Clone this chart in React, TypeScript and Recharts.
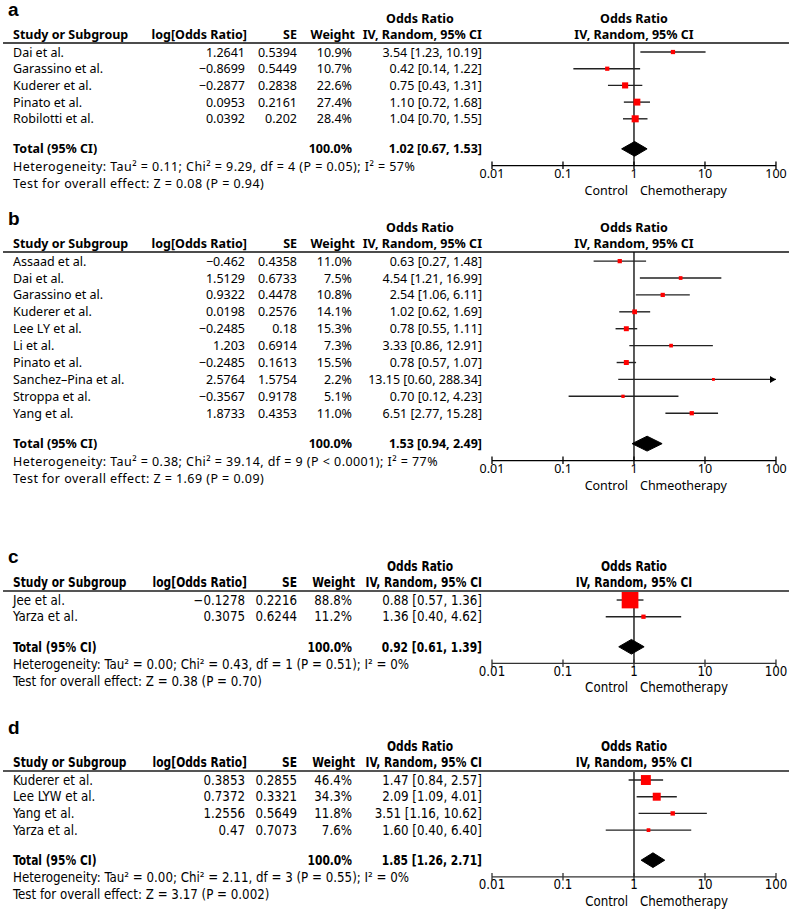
import React from 'react';
import { ComposedChart, XAxis, YAxis, Scatter, ReferenceLine, ReferenceDot } from 'recharts';

// ---------- Panel a ----------
const studiesA = ['Dai et al.', 'Garassino et al.', 'Kuderer et al.', 'Pinato et al.', 'Robilotti et al.'];
const logOrA = [1.2641, -0.8699, -0.2877, 0.0953, 0.0392];
const seA = [0.5394, 0.5449, 0.2838, 0.2161, 0.202];
const weightA = [10.9, 10.7, 22.6, 27.4, 28.4];
const orA = [3.54, 0.42, 0.75, 1.1, 1.04];
const loA = [1.23, 0.14, 0.43, 0.72, 0.7];
const hiA = [10.19, 1.22, 1.31, 1.68, 1.55];
const totalA = [1.02, 0.67, 1.53];
const hetA = 'Heterogeneity: Tau² = 0.11; Chi² = 9.29, df = 4 (P = 0.05); I² = 57%';
const testA = 'Test for overall effect: Z = 0.08 (P = 0.94)';

// ---------- Panel b ----------
const studiesB = ['Assaad et al.', 'Dai et al.', 'Garassino et al.', 'Kuderer et al.', 'Lee LY et al.', 'Li et al.', 'Pinato et al.', 'Sanchez–Pina et al.', 'Stroppa et al.', 'Yang et al.'];
const logOrB = [-0.462, 1.5129, 0.9322, 0.0198, -0.2485, 1.203, -0.2485, 2.5764, -0.3567, 1.8733];
const seB = [0.4358, 0.6733, 0.4478, 0.2576, 0.18, 0.6914, 0.1613, 1.5754, 0.9178, 0.4353];
const weightB = [11.0, 7.5, 10.8, 14.1, 15.3, 7.3, 15.5, 2.2, 5.1, 11.0];
const orB = [0.63, 4.54, 2.54, 1.02, 0.78, 3.33, 0.78, 13.15, 0.7, 6.51];
const loB = [0.27, 1.21, 1.06, 0.62, 0.55, 0.86, 0.57, 0.6, 0.12, 2.77];
const hiB = [1.48, 16.99, 6.11, 1.69, 1.11, 12.91, 1.07, 288.34, 4.23, 15.28];
const totalB = [1.53, 0.94, 2.49];
const hetB = 'Heterogeneity: Tau² = 0.38; Chi² = 39.14, df = 9 (P < 0.0001); I² = 77%';
const testB = 'Test for overall effect: Z = 1.69 (P = 0.09)';

// ---------- Panel c ----------
const studiesC = ['Jee et al.', 'Yarza et al.'];
const logOrC = [-0.1278, 0.3075];
const seC = [0.2216, 0.6244];
const weightC = [88.8, 11.2];
const orC = [0.88, 1.36];
const loC = [0.57, 0.4];
const hiC = [1.36, 4.62];
const totalC = [0.92, 0.61, 1.39];
const hetC = 'Heterogeneity: Tau² = 0.00; Chi² = 0.43, df = 1 (P = 0.51); I² = 0%';
const testC = 'Test for overall effect: Z = 0.38 (P = 0.70)';

// ---------- Panel d ----------
const studiesD = ['Kuderer et al.', 'Lee LYW et al.', 'Yang et al.', 'Yarza et al.'];
const logOrD = [0.3853, 0.7372, 1.2556, 0.47];
const seD = [0.2855, 0.3321, 0.5649, 0.7073];
const weightD = [46.4, 34.3, 11.8, 7.6];
const orD = [1.47, 2.09, 3.51, 1.6];
const loD = [0.84, 1.09, 1.16, 0.4];
const hiD = [2.57, 4.01, 10.62, 6.4];
const totalD = [1.85, 1.26, 2.71];
const hetD = 'Heterogeneity: Tau² = 0.00; Chi² = 2.11, df = 3 (P = 0.55); I² = 0%';
const testD = 'Test for overall effect: Z = 3.17 (P = 0.002)';

const xTicks = [0.01, 0.1, 1, 10, 100];
const leftLabel = 'Control';
const rightLabels = ['Chemotherapy', 'Chmeotherapy', 'Chemotherapy', 'Chemotherapy'];

// ---------- layout ----------
const FONT_WIDE = "'Noto Sans', 'Open Sans', sans-serif";
const FONT_NARROW = "'DejaVu Sans Condensed', 'DejaVu Sans', sans-serif";
const COL = { name: 13, logOr: 245, logOrHead: 247, se: 297, weight: 352, weightHead: 355, ci: 482, orHead: 420, plotHead: 634 };
const PAD_TOP = 0.54;
const PAD_BOTTOM = 1.8;
const MARGIN_TOP = 60;
const XAXIS_H = 40;

type Panel = {
  letter: string; names: string[]; logOr: number[]; se: number[]; weight: number[];
  or: number[]; lo: number[]; hi: number[]; total: number[]; het: string; test: string;
  right: string; lineY: number; rowH: number; letterUp: number; font: string; fontSize: number;
  boldScale: number; headLine: string; headLineW: number; noteSpacing: number; axisColor: string;
};

const panels: Panel[] = [
  { letter: 'a', names: studiesA, logOr: logOrA, se: seA, weight: weightA, or: orA, lo: loA, hi: hiA, total: totalA, het: hetA, test: testA, right: rightLabels[0], lineY: 43, rowH: 16.7, letterUp: 27, font: FONT_WIDE, fontSize: 12.5, boldScale: 1, headLine: '#111', headLineW: 1.4, noteSpacing: 0.45, axisColor: '#000' },
  { letter: 'b', names: studiesB, logOr: logOrB, se: seB, weight: weightB, or: orB, lo: loB, hi: hiB, total: totalB, het: hetB, test: testB, right: rightLabels[1], lineY: 252, rowH: 16.9, letterUp: 27, font: FONT_WIDE, fontSize: 12.5, boldScale: 1, headLine: '#111', headLineW: 1.4, noteSpacing: 0.45, axisColor: '#000' },
  { letter: 'c', names: studiesC, logOr: logOrC, se: seC, weight: weightC, or: orC, lo: loC, hi: hiC, total: totalC, het: hetC, test: testC, right: rightLabels[2], lineY: 591, rowH: 16.7, letterUp: 28, font: FONT_NARROW, fontSize: 13.2, boldScale: 0.9, headLine: '#555', headLineW: 2, noteSpacing: 0, axisColor: '#333' },
  { letter: 'd', names: studiesD, logOr: logOrD, se: seD, weight: weightD, or: orD, lo: loD, hi: hiD, total: totalD, het: hetD, test: testD, right: rightLabels[3], lineY: 771, rowH: 16.7, letterUp: 37, font: FONT_NARROW, fontSize: 13.2, boldScale: 0.9, headLine: '#555', headLineW: 2, noteSpacing: 0, axisColor: '#333' },
];

const fmt = (v: number) => String(v).replace('-', '−');
const fmtCI = (o: number, l: number, h: number) => `${o.toFixed(2)} [${l.toFixed(2)}, ${h.toFixed(2)}]`;
const squareSize = (w: number) => 2.5 + 0.16 * w;

function Txt(props: any) {
  const { x, y, sx = 1, children, ...rest } = props;
  if (sx === 1) return <text x={x} y={y} {...rest}>{children}</text>;
  return <text x={x / sx} y={y} transform={`scale(${sx},1)`} {...rest}>{children}</text>;
}

function RowTick(props: any) {
  const { y, payload, panel } = props;
  const p: Panel = panel;
  const v = payload.value as number;
  const n = p.names.length;
  const fs = p.fontSize;
  const t = { fontFamily: p.font, fontSize: fs, fill: '#000' } as const;
  const b = { ...t, fontWeight: 'bold', sx: p.boldScale } as const;
  const base = y + fs * 0.36;
  if (v > n - 0.5) {
    return (
      <g>
        <Txt x={COL.name} y={base} {...b}>Total (95% CI)</Txt>
        <Txt x={COL.weight} y={base} {...b} textAnchor="end">100.0%</Txt>
        <Txt x={COL.ci} y={base} {...b} textAnchor="end">{fmtCI(p.total[0], p.total[1], p.total[2])}</Txt>
        <text x={COL.name} y={base + 17.5} {...t} letterSpacing={p.noteSpacing}>{p.het}</text>
        <text x={COL.name} y={base + 34.5} {...t} letterSpacing={p.noteSpacing}>{p.test}</text>
      </g>
    );
  }
  const i = Math.round(v);
  const lineY = y - PAD_TOP * p.rowH;
  return (
    <g>
      {i === 0 && (
        <g>
          <text x={8} y={lineY - p.letterUp} fontFamily="'Liberation Sans', Arial, sans-serif" fontWeight="bold" fontSize={19} fill="#000">{p.letter}</text>
          <Txt x={COL.orHead} y={lineY - 19.5} {...b} textAnchor="middle">Odds Ratio</Txt>
          <Txt x={COL.plotHead} y={lineY - 19.5} {...b} textAnchor="middle">Odds Ratio</Txt>
          <Txt x={COL.name} y={lineY - 4} {...b}>Study or Subgroup</Txt>
          <Txt x={COL.logOrHead} y={lineY - 4} {...b} textAnchor="end">log[Odds Ratio]</Txt>
          <Txt x={COL.se} y={lineY - 4} {...b} textAnchor="end">SE</Txt>
          <Txt x={COL.weightHead} y={lineY - 4} {...b} textAnchor="end">Weight</Txt>
          <Txt x={COL.ci} y={lineY - 4} {...b} textAnchor="end">IV, Random, 95% CI</Txt>
          <Txt x={COL.plotHead} y={lineY - 4} {...b} textAnchor="middle">IV, Random, 95% CI</Txt>
          <line x1={3} x2={789} y1={lineY} y2={lineY} stroke={p.headLine} strokeWidth={p.headLineW} />
        </g>
      )}
      <text x={COL.name} y={base} {...t}>{p.names[i]}</text>
      <text x={COL.logOr} y={base} {...t} textAnchor="end">{fmt(p.logOr[i])}</text>
      <text x={COL.se} y={base} {...t} textAnchor="end">{fmt(p.se[i])}</text>
      <text x={COL.weight} y={base} {...t} textAnchor="end">{p.weight[i].toFixed(1)}%</text>
      <text x={COL.ci} y={base} {...t} textAnchor="end">{fmtCI(p.or[i], p.lo[i], p.hi[i])}</text>
    </g>
  );
}

function XTick(props: any) {
  const { x, y, payload, panel } = props;
  const p: Panel = panel;
  const v = payload.value as number;
  const t = { fontFamily: p.font, fontSize: p.fontSize, fill: '#000' } as const;
  return (
    <g>
      <line x1={x} x2={x} y1={y - 4} y2={y + 3.5} stroke={p.axisColor} strokeWidth={1.3} />
      <text x={x} y={y + 12.5} {...t} textAnchor="middle">{String(v)}</text>
      {v === 1 && (
        <g>
          <text x={x - 6} y={y + 29} {...t} textAnchor="end">{leftLabel}</text>
          <text x={x + 6} y={y + 29} {...t} textAnchor="start">{p.right}</text>
        </g>
      )}
    </g>
  );
}

function SquareShape(props: any) {
  const { cx, cy, payload } = props;
  const s = squareSize(payload.w);
  return <rect x={cx - s / 2} y={cy - s / 2} width={s} height={s} fill="#ff0000" />;
}

function Arrow(props: any) {
  const { cx, cy } = props;
  return <path d={`M${cx},${cy} l-6,-3.5 l0,7 z`} fill="#000" />;
}

const Empty = () => <g />;

function ForestPanel({ p }: { p: Panel }) {
  const n = p.names.length;
  const totalY = n + 0.8;
  const plotH = (n + PAD_BOTTOM + PAD_TOP) * p.rowH;
  const height = MARGIN_TOP + plotH + XAXIS_H;
  const rowTicks = [...p.names.map((_, i) => i), totalY];
  const squares = p.names.map((_, i) => ({ x: p.or[i], y: i, w: p.weight[i] }));
  const dh = 0.44;
  const diamond = [
    { x: p.total[1], y: totalY },
    { x: p.total[0], y: totalY - dh },
    { x: p.total[2], y: totalY },
    { x: p.total[0], y: totalY + dh },
    { x: p.total[1], y: totalY },
  ];
  const xMax = xTicks[xTicks.length - 1];
  return (
    <div style={{ position: 'absolute', left: 0, top: p.lineY - MARGIN_TOP }}>
      <ComposedChart width={789} height={height} margin={{ top: MARGIN_TOP, right: 13, bottom: 0, left: 0 }}>
        <XAxis
          type="number"
          dataKey="x"
          scale="log"
          domain={[xTicks[0], xMax]}
          ticks={xTicks}
          interval={0}
          allowDataOverflow
          axisLine={{ stroke: p.axisColor, strokeWidth: 1.3 }}
          tickLine={false}
          tickSize={0}
          tickMargin={0}
          height={XAXIS_H}
          tick={(tp: any) => <XTick {...tp} panel={p} />}
        />
        <YAxis
          type="number"
          dataKey="y"
          reversed
          domain={[-PAD_TOP, n + PAD_BOTTOM]}
          allowDataOverflow
          ticks={rowTicks}
          interval={0}
          width={492}
          axisLine={false}
          tickLine={false}
          tickSize={0}
          tickMargin={0}
          tick={(tp: any) => <RowTick {...tp} panel={p} />}
        />
        <ReferenceLine x={1} stroke="#000" strokeWidth={1.3} ifOverflow="visible" />
        {p.names.map((_, i) => (
          <ReferenceLine
            key={'ci' + i}
            segment={[{ x: p.lo[i], y: i }, { x: Math.min(p.hi[i], xMax), y: i }]}
            stroke="#222"
            strokeWidth={1.4}
            ifOverflow="visible"
          />
        ))}
        {p.names.map((_, i) =>
          p.hi[i] > xMax ? (
            <ReferenceDot key={'ar' + i} x={xMax} y={i} r={0} ifOverflow="visible" shape={(sp: any) => <Arrow {...sp} />} />
          ) : null
        )}
        <Scatter data={squares} shape={(sp: any) => <SquareShape {...sp} />} isAnimationActive={false} />
        <Scatter
          data={diamond}
          shape={Empty}
          line={{ stroke: '#000', fill: '#000', strokeWidth: 1 }}
          lineType="joint"
          isAnimationActive={false}
        />
      </ComposedChart>
    </div>
  );
}

export default function App() {
  return (
    <div style={{ position: 'absolute', left: 0, top: 0, width: 789, height: 909, background: '#fff', overflow: 'hidden' }}>
      {panels.map((p) => (
        <ForestPanel key={p.letter} p={p} />
      ))}
    </div>
  );
}
